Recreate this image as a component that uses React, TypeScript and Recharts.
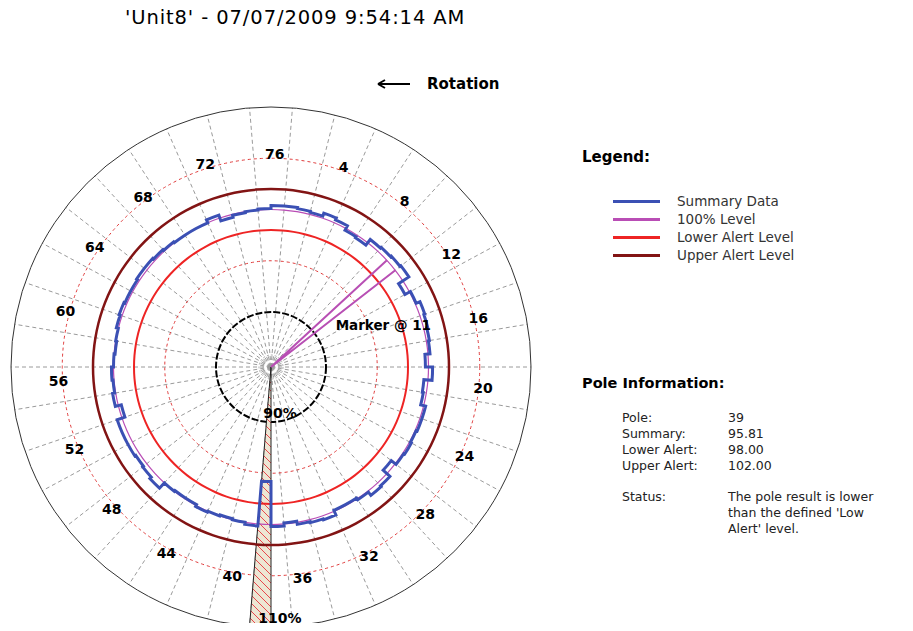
import React from "react";
import {
  RadarChart,
  Radar,
  PolarGrid,
  PolarAngleAxis,
  PolarRadiusAxis,
  Legend,
} from "recharts";

// pole numbers in the order they sit round the dial (76 at the top, clockwise)
const POLE_ORDER = [
  76, 1, 2, 3, 4, 5, 6, 7, 8, 9, 10, 11, 12, 13, 14, 15, 16, 17, 18, 19, 20,
  21, 22, 23, 24, 25, 26, 27, 28, 29, 30, 31, 32, 33, 34, 35, 36, 37, 38, 39,
  40, 41, 42, 43, 44, 45, 46, 47, 48, 49, 50, 51, 52, 53, 54, 55, 56, 57, 58,
  59, 60, 61, 62, 63, 64, 65, 66, 67, 68, 69, 70, 71, 72, 73, 74, 75,
];

// summary result (%) for poles 1..76
const SUMMARY = [
  100.4, 100.4, 100.3, 100.2, 100.5, 100.3, 99.8, 99.7, 100.4, 100.5,
  100.6, 100.7, 99.5, 100.1, 100.5, 100.4, 100.3, 100.2, 99.7, 100.4,
  99.6, 99.7, 100.2, 100.2, 100.1, 100.2, 100.1, 99.5, 100.4, 100.5,
  100.1, 99.9, 99.9, 100.4, 100.3, 100.2, 99.9, 100.2, 95.81, 100.2,
  100.0, 99.9, 100.0, 100.1, 99.9, 99.9, 100.0, 100.7, 100.5, 100.4,
  100.5, 100.5, 100.5, 99.7, 100.3, 100.1, 100.2, 100.0, 99.9, 100.0,
  100.2, 100.3, 100.2, 100.2, 100.3, 100.3, 100.2, 100.1, 100.0, 100.0,
  100.0, 100.3, 99.7, 99.9, 100.0, 100.1,
];

const LEVEL_100 = 100;
const LOWER_ALERT = 98;
const UPPER_ALERT = 102;
const SELECTED_POLE = 39;
const MARKER_POLE = 11;
const PCT_TICKS = [90, 110];
const DASHED_RINGS = [95, 105];

const W = 913;
const H = 631;
const CX = 271;
const CY = 367;
const OUTER = 260;
const INNER_PX = 55; // where 90% sits
const AXIS_MAX = 110;
const AXIS_MIN = 90 - ((AXIS_MAX - 90) * INNER_PX) / (OUTER - INNER_PX);
const FONT = "'DejaVu Sans', Verdana, sans-serif";

const RAD = Math.PI / 180;
const STEP = 360 / POLE_ORDER.length;

const rOf = (v: number) => ((v - AXIS_MIN) / (AXIS_MAX - AXIS_MIN)) * OUTER;
const polar = (cx: number, cy: number, r: number, a: number) => ({
  x: cx + Math.cos(-a * RAD) * r,
  y: cy + Math.sin(-a * RAD) * r,
});

const data = POLE_ORDER.map((p) => ({
  pole: p,
  summary: SUMMARY[p - 1],
  level: LEVEL_100,
  lower: LOWER_ALERT,
  upper: UPPER_ALERT,
  selected: p === SELECTED_POLE ? AXIS_MAX : null,
  marker: p === MARKER_POLE ? LEVEL_100 : null,
}));

// grid spokes fall on the odd poles
const SPOKES = POLE_ORDER.filter((p) => p % 2 === 1).map((p) => 90 - p * STEP);

// each pole covers the slice that ends at its own angle
function StepRing(props: any) {
  const { points, stroke, strokeWidth } = props;
  if (!points || !points.length) return null;
  let d = "";
  points.forEach((p: any, i: number) => {
    const s = polar(p.cx, p.cy, p.radius, p.angle + STEP);
    const e = polar(p.cx, p.cy, p.radius, p.angle);
    d += `${i === 0 ? "M" : "L"}${s.x},${s.y}A${p.radius},${p.radius} 0 0 1 ${e.x},${e.y}`;
  });
  return (
    <path d={d + "Z"} fill="none" stroke={stroke} strokeWidth={strokeWidth} />
  );
}

function PoleWedge(props: any) {
  const p = (props.points || []).find((q: any) => q.payload.selected != null);
  if (!p) return null;
  const R = p.radius * 1.12;
  const a = polar(p.cx, p.cy, R, p.angle + STEP);
  const b = polar(p.cx, p.cy, R, p.angle);
  return (
    <g>
      <defs>
        <pattern id="hatch" width="8" height="8" patternUnits="userSpaceOnUse">
          <rect width="8" height="8" fill="#ede6d4" />
          <path d="M0,0L8,8M-1,7L1,9M7,-1L9,1" stroke="#e8343c" strokeWidth="0.9" />
        </pattern>
      </defs>
      <path
        d={`M${p.cx},${p.cy}L${a.x},${a.y}A${R},${R} 0 0 1 ${b.x},${b.y}Z`}
        fill="url(#hatch)"
        stroke="#222"
        strokeWidth={1}
      />
    </g>
  );
}

function MarkerWedge(props: any) {
  const p = (props.points || []).find((q: any) => q.payload.marker != null);
  if (!p) return null;
  const a = polar(p.cx, p.cy, p.radius, p.angle + STEP);
  const b = polar(p.cx, p.cy, p.radius, p.angle);
  return (
    <g>
      <path
        d={`M${p.cx},${p.cy}L${a.x},${a.y}M${p.cx},${p.cy}L${b.x},${b.y}`}
        stroke="#b84fb4"
        strokeWidth={2}
        fill="none"
      />
      <text
        x={b.x - 12}
        y={b.y + 60}
        textAnchor="middle"
        fontFamily={FONT}
        fontWeight="bold"
        fontSize={13.5}
        fill="#000"
      >
        Marker @ {p.payload.pole}
      </text>
    </g>
  );
}

function PoleTick(props: any) {
  const { payload } = props;
  if (payload.value % 4 !== 0) return <g />;
  const p = polar(props.cx ?? CX, props.cy ?? CY, 213, payload.coordinate - 1);
  return (
    <text
      x={p.x}
      y={p.y}
      dy={5}
      textAnchor="middle"
      fontFamily={FONT}
      fontWeight="bold"
      fontSize={14}
      fill="#000"
    >
      {payload.value}
    </text>
  );
}

function PctTick(props: any) {
  const { x, y, payload } = props;
  return (
    <text
      x={x + 9}
      y={y - 4}
      textAnchor="middle"
      fontFamily={FONT}
      fontWeight="bold"
      fontSize={14}
      fill="#000"
    >
      {payload.value}%
    </text>
  );
}

const LEGEND_ORDER = ["Summary Data", "100% Level", "Lower Alert Level", "Upper Alert Level"];

function LegendBox({ payload }: any) {
  const items = (payload || [])
    .filter((e: any) => LEGEND_ORDER.includes(e.value))
    .sort((a: any, b: any) => LEGEND_ORDER.indexOf(a.value) - LEGEND_ORDER.indexOf(b.value));
  return (
    <div style={{ position: "relative", width: 320, height: 120, fontFamily: FONT }}>
      <div style={{ position: "absolute", left: 0, top: 0, fontSize: 15, fontWeight: "bold", lineHeight: "20px", color: "#000" }}>
        Legend:
      </div>
      {items.map((e: any, i: number) => (
        <div key={e.value} style={{ position: "absolute", left: 0, top: 45 + i * 18, height: 18, width: 320 }}>
          <span style={{ position: "absolute", left: 31, top: 8, width: 47, height: 3, background: e.color }} />
          <span style={{ position: "absolute", left: 95, top: 0, fontSize: 13.5, lineHeight: "18px", color: "#333", whiteSpace: "nowrap" }}>
            {e.value}
          </span>
        </div>
      ))}
    </div>
  );
}

const INFO_ROWS = [
  ["Pole:", String(SELECTED_POLE)],
  ["Summary:", SUMMARY[SELECTED_POLE - 1].toFixed(2)],
  ["Lower Alert:", LOWER_ALERT.toFixed(2)],
  ["Upper Alert:", UPPER_ALERT.toFixed(2)],
];
const STATUS_LINES = ["The pole result is lower", "than the defined 'Low", "Alert' level."];

export default function App() {
  return (
    <div style={{ position: "relative", width: W, height: H, margin: -8, background: "#fff", fontFamily: FONT, overflow: "hidden" }}>
      <div style={{ position: "absolute", left: 125, top: 6, fontSize: 19.5, letterSpacing: 0.9, lineHeight: "24px", color: "#000", whiteSpace: "nowrap" }}>
        'Unit8' - 07/07/2009 9:54:14 AM
      </div>
      <svg style={{ position: "absolute", left: 0, top: 0 }} width={W} height={120}>
        <path d="M378,84L410,84M378,84L385,80M378,84L385,88" stroke="#000" strokeWidth={2} fill="none" />
        <text x={427} y={89} fontFamily={FONT} fontWeight="bold" fontSize={15} fill="#000">
          Rotation
        </text>
      </svg>

      <div style={{ position: "absolute", left: 0, top: 0 }}>
        <RadarChart
          width={W}
          height={H}
          data={data}
          cx={CX}
          cy={CY}
          innerRadius={0}
          outerRadius={OUTER}
          startAngle={90}
          endAngle={-270}
          margin={{ top: 0, right: 0, bottom: 0, left: 0 }}
        >
          <PolarGrid gridType="circle" polarRadius={[]} polarAngles={SPOKES} stroke="#9a9a9a" strokeDasharray="4 3" />
          <PolarGrid gridType="circle" radialLines={false} polarRadius={[4, 8, 12]} stroke="#aaa" strokeDasharray="2 2" />
          <PolarGrid gridType="circle" radialLines={false} polarRadius={DASHED_RINGS.map(rOf)} stroke="#e03c3c" strokeDasharray="3 3" />
          <PolarGrid gridType="circle" radialLines={false} polarRadius={[rOf(90)]} stroke="#000" strokeWidth={2} strokeDasharray="7 2" />
          <PolarGrid gridType="circle" radialLines={false} polarRadius={[rOf(110)]} stroke="#333" strokeWidth={1} />
          <PolarAngleAxis dataKey="pole" axisLine={false} tickLine={false} tick={<PoleTick />} />
          <PolarRadiusAxis
            type="number"
            angle={-90}
            domain={[AXIS_MIN, AXIS_MAX]}
            allowDataOverflow
            ticks={PCT_TICKS}
            axisLine={false}
            tickLine={false}
            tick={<PctTick />}
          />
          <Radar dataKey="selected" legendType="none" shape={<PoleWedge />} stroke="#222" fill="none" isAnimationActive={false} />
          <Radar name="Upper Alert Level" dataKey="upper" stroke="#821414" strokeWidth={2.5} fill="none" shape={<StepRing />} isAnimationActive={false} />
          <Radar name="Lower Alert Level" dataKey="lower" stroke="#ee2424" strokeWidth={2} fill="none" shape={<StepRing />} isAnimationActive={false} />
          <Radar name="100% Level" dataKey="level" stroke="#b94db5" strokeWidth={1.2} fill="none" shape={<StepRing />} isAnimationActive={false} />
          <Radar name="Summary Data" dataKey="summary" stroke="#3b50b4" strokeWidth={3} fill="none" shape={<StepRing />} isAnimationActive={false} />
          <Radar dataKey="marker" legendType="none" shape={<MarkerWedge />} stroke="#b84fb4" fill="none" isAnimationActive={false} />
          <Legend
            layout="vertical"
            align="right"
            verticalAlign="top"
            content={<LegendBox />}
            wrapperStyle={{ left: 582, top: 147, right: "auto", width: 320 }}
          />
        </RadarChart>
      </div>

      <div style={{ position: "absolute", left: 582, top: 373, fontSize: 14.5, fontWeight: "bold", lineHeight: "20px", color: "#000", whiteSpace: "nowrap" }}>
        Pole Information:
      </div>
      {INFO_ROWS.map((row, i) => (
        <div key={row[0]} style={{ position: "absolute", top: 410 + i * 16, left: 0, fontSize: 12.5, lineHeight: "16px", color: "#222" }}>
          <span style={{ position: "absolute", left: 622, whiteSpace: "nowrap" }}>{row[0]}</span>
          <span style={{ position: "absolute", left: 728, whiteSpace: "nowrap" }}>{row[1]}</span>
        </div>
      ))}
      <div style={{ position: "absolute", top: 489, left: 622, fontSize: 12.5, lineHeight: "16px", color: "#222" }}>Status:</div>
      {STATUS_LINES.map((line, i) => (
        <div key={i} style={{ position: "absolute", top: 489 + i * 16, left: 728, fontSize: 12.5, lineHeight: "16px", color: "#222", whiteSpace: "nowrap" }}>
          {line}
        </div>
      ))}
    </div>
  );
}
